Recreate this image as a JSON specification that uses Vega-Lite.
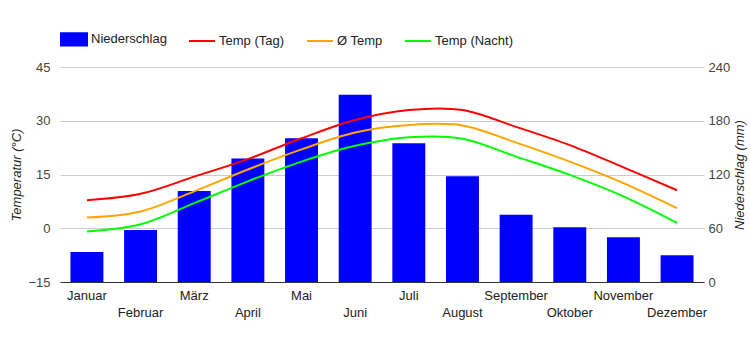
{
  "$schema": "https://vega.github.io/schema/vega-lite/v6.json",
  "width": 644,
  "height": 215,
  "autosize": "none",
  "padding": {"left": 60, "top": 67, "right": 46, "bottom": 68},
  "config": {"view": {"stroke": null}, "font": "Liberation Sans"},
  "data": {
    "values": [
      {"month": "Januar", "precip": 33.5, "tag": 7.8, "avg": 3.0, "nacht": -0.9},
      {"month": "Februar", "precip": 58, "tag": 9.6, "avg": 4.7, "nacht": 1.1},
      {"month": "März", "precip": 101.5, "tag": 14.4, "avg": 10.3, "nacht": 7.0},
      {"month": "April", "precip": 138, "tag": 19.3, "avg": 16.4, "nacht": 13.1},
      {"month": "Mai", "precip": 160.5, "tag": 25.1, "avg": 22.0, "nacht": 18.6},
      {"month": "Juni", "precip": 209, "tag": 30.2, "avg": 26.7, "nacht": 23.0},
      {"month": "Juli", "precip": 155, "tag": 33.0, "avg": 28.8, "nacht": 25.4},
      {"month": "August", "precip": 118, "tag": 33.0, "avg": 28.7, "nacht": 25.0},
      {"month": "September", "precip": 75, "tag": 28.3, "avg": 23.9, "nacht": 20.0},
      {"month": "Oktober", "precip": 61, "tag": 23.2, "avg": 18.6, "nacht": 14.9},
      {"month": "November", "precip": 50, "tag": 17.0, "avg": 12.6, "nacht": 8.9},
      {"month": "Dezember", "precip": 30, "tag": 10.6, "avg": 5.6, "nacht": 1.5}
    ]
  },
  "encoding": {
    "x": {
      "field": "month",
      "type": "nominal",
      "sort": null,
      "scale": {"paddingInner": 0.386, "paddingOuter": 0.195},
      "axis": {
        "title": null,
        "labelAngle": 0,
        "ticks": false,
        "domainColor": "#333333",
        "labelColor": "#222222",
        "labelFontSize": 13,
        "labelPadding": 7,
        "labelLineHeight": 17,
        "labelBaseline": "top",
        "labelOverlap": false,
        "labelBound": false,
        "labelExpr": "indexof(['Januar','Februar','März','April','Mai','Juni','Juli','August','September','Oktober','November','Dezember'], datum.value) % 2 == 1 ? ['', datum.value] : datum.value"
      }
    }
  },
  "layer": [
    {
      "mark": {"type": "bar", "color": "#0000ff"},
      "encoding": {
        "y": {
          "field": "precip",
          "type": "quantitative",
          "scale": {"domain": [0, 240], "nice": false},
          "axis": {
            "orient": "right",
            "values": [0, 60, 120, 180, 240],
            "grid": false,
            "domain": false,
            "ticks": false,
            "labelPadding": 4,
            "labelColor": "#444444",
            "labelFontSize": 13,
            "title": "Niederschlag (mm)",
            "titleFontStyle": "italic",
            "titleFontWeight": "normal",
            "titleFontSize": 13,
            "titleColor": "#222222",
            "titleAngle": 270,
            "titleBaseline": "middle",
            "titleAlign": "center",
            "titleX": 35,
            "titleY": 107.5
          }
        },
        "color": {
          "datum": "Niederschlag",
          "scale": {
            "domain": ["Niederschlag", "Temp (Tag)", "Ø Temp", "Temp (Nacht)"],
            "range": ["#0000ff", "#ff0000", "#ffa500", "#00ff00"]
          },
          "legend": {
            "orient": "none",
            "legendX": 0,
            "legendY": -42,
            "direction": "horizontal",
            "title": null,
            "padding": 0,
            "columnPadding": 18,
            "labelOffset": 3,
            "labelFontSize": 13,
            "labelColor": "#222222",
            "symbolSize": 676,
            "symbolStrokeWidth": 2,
            "encode": {
              "symbols": {
                "update": {
                  "shape": {"signal": "datum.value === 'Niederschlag' ? 'M-1,-0.48H1V0.48H-1Z' : 'M-1,0H1'"},
                  "fill": {"signal": "datum.value === 'Niederschlag' ? '#0000ff' : 'transparent'"},
                  "stroke": {"signal": "datum.value === 'Niederschlag' ? 'transparent' : ({'Temp (Tag)': '#ff0000', 'Ø Temp': '#ffa500', 'Temp (Nacht)': '#00ff00'})[datum.value]"},
                  "strokeWidth": {"value": 2},
                  "opacity": {"value": 1}
                }
              }
            }
          }
        }
      }
    },
    {
      "encoding": {
        "y": {
          "type": "quantitative",
          "scale": {"domain": [-15, 45], "nice": false, "zero": false},
          "axis": {
            "orient": "left",
            "values": [-15, 0, 15, 30, 45],
            "grid": true,
            "gridColor": "#cccccc",
            "domain": false,
            "ticks": false,
            "labelPadding": 10,
            "labelColor": "#444444",
            "labelFontSize": 13,
            "title": "Temperatur (°C)",
            "titleFontStyle": "italic",
            "titleFontWeight": "normal",
            "titleFontSize": 13,
            "titleColor": "#222222",
            "titleAngle": 270,
            "titleBaseline": "middle",
            "titleAlign": "center",
            "titleX": -44,
            "titleY": 107.5
          }
        }
      },
      "layer": [
        {
          "mark": {"type": "line", "strokeWidth": 2, "interpolate": "cardinal"},
          "encoding": {"y": {"field": "tag", "type": "quantitative"}, "color": {"datum": "Temp (Tag)"}}
        },
        {
          "mark": {"type": "line", "strokeWidth": 2, "interpolate": "cardinal"},
          "encoding": {"y": {"field": "avg", "type": "quantitative"}, "color": {"datum": "Ø Temp"}}
        },
        {
          "mark": {"type": "line", "strokeWidth": 2, "interpolate": "cardinal"},
          "encoding": {"y": {"field": "nacht", "type": "quantitative"}, "color": {"datum": "Temp (Nacht)"}}
        }
      ]
    }
  ],
  "resolve": {"scale": {"y": "independent"}}
}
